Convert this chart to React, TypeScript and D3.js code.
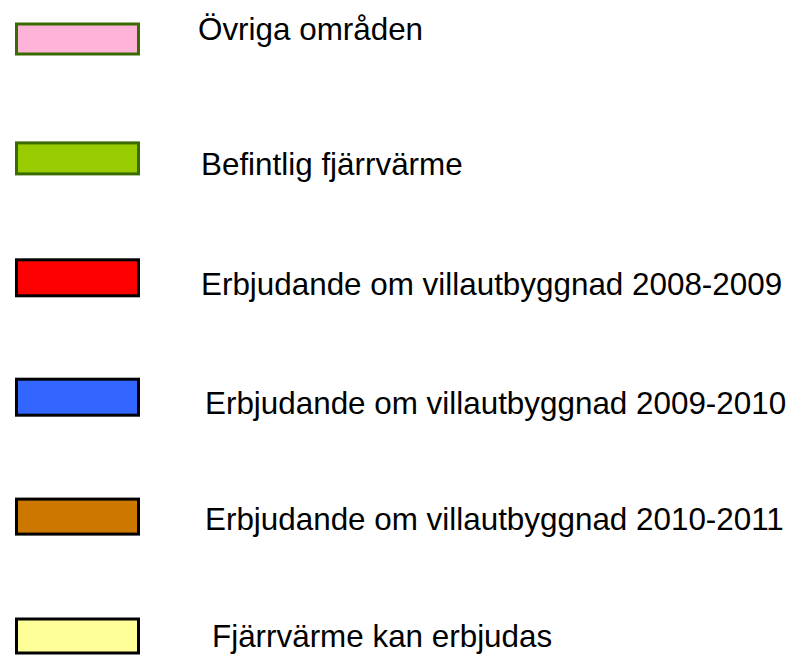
import React from "react";
import * as d3 from "d3";

const labels = [
  "Övriga områden",
  "Befintlig fjärrvärme",
  "Erbjudande om villautbyggnad 2008-2009",
  "Erbjudande om villautbyggnad 2009-2010",
  "Erbjudande om villautbyggnad 2010-2011",
  "Fjärrvärme kan erbjudas",
];
const fills = ["#FFB3D9", "#99CC00", "#FF0000", "#3366FF", "#CC7700", "#FFFF99"];
const strokes = ["#3A6B00", "#3A6B00", "#000000", "#000000", "#000000", "#000000"];

// layout (not data): label offsets and swatch heights
const LABEL_DX = [198, 201, 201, 205, 205, 212];
const LABEL_DY = [1, 17, 17, 17, 13, 11];
const SW_H = [30, 31, 36, 36, 35, 34];

const W = 799;
const H = 655;

export default function App() {
  const y = d3.scaleLinear().domain([0, labels.length - 1]).range([39, 636]);
  const swW = 122;
  return (
    <svg
      width={W}
      height={H}
      style={{ position: "absolute", left: 0, top: 0, background: "#fff" }}
      fontFamily="'Liberation Sans', Arial, sans-serif"
    >
      <rect width={W} height={H} fill="#fff" />
      {labels.map((lab, i) => (
        <g key={lab}>
          <rect
            x={16.5}
            y={y(i) - SW_H[i] / 2}
            width={swW}
            height={SW_H[i]}
            fill={fills[i]}
            stroke={strokes[i]}
            strokeWidth={3}
          />
          <text x={LABEL_DX[i]} y={y(i) + LABEL_DY[i]} fontSize={31.4} fill="#000">
            {lab}
          </text>
        </g>
      ))}
    </svg>
  );
}
